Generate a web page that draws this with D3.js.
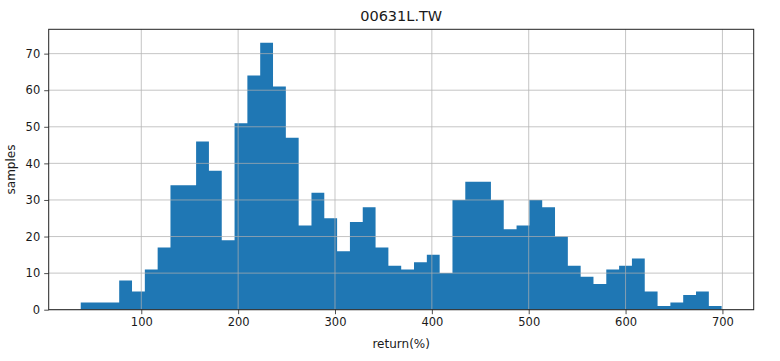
<!DOCTYPE html>
<html>
<head>
<meta charset="utf-8">
<script src="https://cdn.jsdelivr.net/npm/d3@7"></script>
<style>
  html, body { margin: 0; padding: 0; background: #fff; }
  svg { display: block; }
  text { font-family: "DejaVu Sans", sans-serif; fill: #1a1a1a; }
</style>
</head>
<body>
<svg id="chart" width="780" height="361"></svg>
<script>
// ---- data ----
const title = "00631L.TW";
const xLabel = "return(%)";
const yLabel = "samples";
const binMin = 37.5;   // left edge of first bin (return %)
const binMax = 699.2;  // right edge of last bin (return %)
const counts = [2, 2, 2, 8, 5, 11, 17, 34, 34, 46, 38, 19, 51, 64, 73, 61,
                47, 23, 32, 25, 16, 24, 28, 17, 12, 11, 13, 15, 10, 30, 35, 35, 30, 22, 23,
                30, 28, 20, 12, 9, 7, 11, 12, 14, 5, 1, 2, 4, 5, 1];
const xTicks = [100, 200, 300, 400, 500, 600, 700];
const yTicks = [0, 10, 20, 30, 40, 50, 60, 70];

// ---- layout ----
const svg = d3.select("#chart");
const m = { left: 48.7, right: 753.7, top: 29.3, bottom: 309.7 };

const nb = counts.length;
const bw = (binMax - binMin) / nb;
const bins = counts.map((c, i) => ({ x0: binMin + i * bw, x1: binMin + (i + 1) * bw, c }));

const pad = (binMax - binMin) * 0.05;
const x = d3.scaleLinear().domain([binMin - pad, binMax + pad]).range([m.left, m.right]);
const yMax = d3.max(counts) * 1.05;
const y = d3.scaleLinear().domain([0, yMax]).range([m.bottom, m.top]);

// bars: drawn as one stepped area so adjacent bars show no seams
const stepPts = bins.flatMap(b => [{ v: b.x0, c: b.c }, { v: b.x1, c: b.c }]);
const area = d3.area().x(d => x(d.v)).y0(y(0)).y1(d => y(d.c));
svg.append("path").datum(stepPts).attr("d", area).attr("fill", "#1f77b4");

// grid (drawn over bars)
const grid = svg.append("g").attr("stroke", "#b0b0b0").attr("stroke-width", 0.8).attr("opacity", 0.9);
grid.selectAll("line.gx").data(xTicks).join("line")
  .attr("x1", d => x(d)).attr("x2", d => x(d))
  .attr("y1", m.top).attr("y2", m.bottom);
grid.selectAll("line.gy").data(yTicks).join("line")
  .attr("x1", m.left).attr("x2", m.right)
  .attr("y1", d => y(d)).attr("y2", d => y(d));

// axes
const xAxis = d3.axisBottom(x).tickValues(xTicks).tickSize(4.5).tickPadding(4).tickFormat(d3.format("d"));
const yAxis = d3.axisLeft(y).tickValues(yTicks).tickSize(4.5).tickPadding(4).tickFormat(d3.format("d"));

const gx = svg.append("g").attr("transform", `translate(0,${m.bottom})`).call(xAxis);
const gy = svg.append("g").attr("transform", `translate(${m.left},0)`).call(yAxis);
[gx, gy].forEach(g => {
  g.select(".domain").remove();
  g.selectAll(".tick line").attr("stroke", "#222").attr("stroke-width", 0.8);
  g.selectAll(".tick text").style("font-size", "11.5px").attr("fill", "#1a1a1a");
});

// frame
svg.append("rect")
  .attr("x", m.left).attr("y", m.top)
  .attr("width", m.right - m.left).attr("height", m.bottom - m.top)
  .attr("fill", "none").attr("stroke", "#222").attr("stroke-width", 1);

// texts
svg.append("text").attr("x", (m.left + m.right) / 2).attr("y", 21)
  .attr("text-anchor", "middle").style("font-size", "14.5px").text(title);
svg.append("text").attr("x", (m.left + m.right) / 2).attr("y", 348)
  .attr("text-anchor", "middle").style("font-size", "12px").text(xLabel);
svg.append("text")
  .attr("transform", `translate(15,${(m.top + m.bottom) / 2}) rotate(-90)`)
  .attr("text-anchor", "middle").style("font-size", "12px").text(yLabel);
</script>
</body>
</html>
